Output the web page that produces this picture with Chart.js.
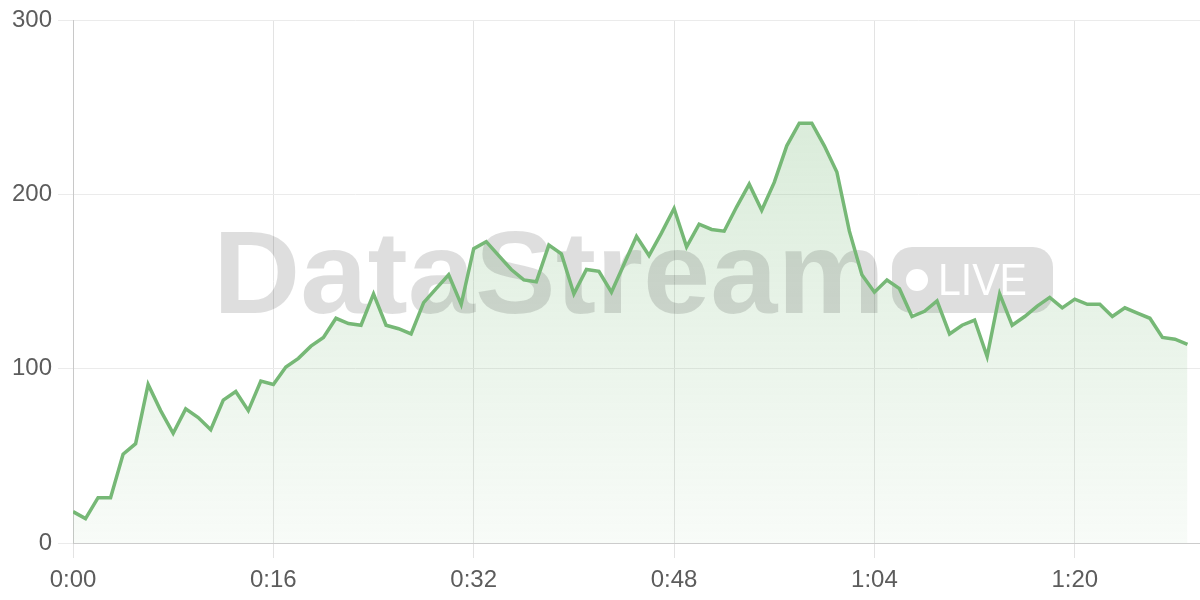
<!DOCTYPE html>
<html>
<head>
<meta charset="utf-8">
<title>DataStream live</title>
<script src="https://cdn.jsdelivr.net/npm/chart.js@4/dist/chart.umd.min.js"></script>
<style>
  html, body { margin: 0; padding: 0; background: #fff; }
  #wrap { width: 1200px; height: 600px; }
</style>
</head>
<body>
<div id="wrap"><canvas id="chart"></canvas></div>
<script>
// one reading per second, starting at 0:00
const values = [
  18, 14, 26, 26, 51, 57, 91, 76, 63, 77,
  72, 65, 82, 87, 76, 93, 91, 101, 106, 113,
  118, 129, 126, 125, 143, 125, 123, 120, 138, 146,
  154, 137, 169, 173, 165, 157, 151, 150, 171, 166,
  143, 157, 156, 144, 160, 176, 165, 178, 192, 170,
  183, 180, 179, 193, 206, 191, 207, 228, 241, 241,
  228, 213, 179, 154, 144, 151, 146, 130, 133, 139,
  120, 125, 128, 107, 143, 125, 130, 136, 141, 135,
  140, 137, 137, 130, 135, 132, 129, 118, 117, 114
];
const xTickSeconds = [0, 16, 32, 48, 64, 80];
const yTickValues = [0, 100, 200, 300];
const xMax = 90;
const yMax = 300;

const lineColor = 'rgb(118, 184, 118)';
const tickFont = { family: '"Liberation Sans", Arial, sans-serif', size: 24 };

function fmtTime(s) {
  const m = Math.floor(s / 60);
  const r = s % 60;
  return m + ':' + String(r).padStart(2, '0');
}

// big "DataStream LIVE" mark behind the line
const watermark = {
  id: 'watermark',
  beforeDatasetsDraw(chart) {
    const ctx = chart.ctx;
    ctx.save();
    ctx.fillStyle = 'rgba(0, 0, 0, 0.13)';
    ctx.font = 'bold 116px "Liberation Sans", Arial, sans-serif';
    const w = ctx.measureText('DataStream').width;
    ctx.save();
    ctx.translate(213, 313);
    ctx.scale(672 / w, 1);
    ctx.fillText('DataStream', 0, 0);
    ctx.restore();
    ctx.beginPath();
    ctx.roundRect(892, 247, 161, 66, 20);
    ctx.fill();
    ctx.fillStyle = '#fff';
    ctx.beginPath();
    ctx.arc(917, 280, 11, 0, Math.PI * 2);
    ctx.fill();
    ctx.font = '44px "Liberation Sans", Arial, sans-serif';
    const lw = ctx.measureText('LIVE').width;
    ctx.translate(938, 295);
    ctx.scale(89 / lw, 1);
    ctx.fillText('LIVE', 0, 0);
    ctx.restore();
  }
};

const ctx = document.getElementById('chart').getContext('2d');
new Chart(ctx, {
  type: 'line',
  data: {
    datasets: [{
      data: values.map((v, i) => ({ x: i, y: v })),
      borderColor: lineColor,
      borderWidth: 3.5,
      pointRadius: 0,
      tension: 0,
      fill: 'origin',
      backgroundColor: (c) => {
        const area = c.chart.chartArea;
        if (!area) return 'rgba(118, 184, 118, 0.15)';
        const g = c.chart.ctx.createLinearGradient(0, area.top, 0, area.bottom);
        g.addColorStop(0, 'rgba(118, 184, 118, 0.32)');
        g.addColorStop(1, 'rgba(118, 184, 118, 0.05)');
        return g;
      }
    }]
  },
  options: {
    responsive: true,
    maintainAspectRatio: false,
    animation: false,
    layout: { padding: { top: 19, right: 0, bottom: 0, left: 0 } },
    plugins: {
      legend: { display: false },
      tooltip: { enabled: false },
      filler: { drawTime: 'beforeDatasetsDraw' }
    },
    scales: {
      x: {
        type: 'linear',
        min: 0,
        max: xMax,
        afterBuildTicks: (s) => { s.ticks = xTickSeconds.map(v => ({ value: v })); },
        afterFit: (s) => { s.height = 57; },
        ticks: {
          callback: (v) => fmtTime(v),
          font: tickFont,
          color: '#5c5c5c',
          padding: 8,
          maxRotation: 0
        },
        grid: { color: '#e3e3e3', tickLength: 15 },
        border: { color: '#cccccc' }
      },
      y: {
        min: 0,
        max: yMax,
        afterBuildTicks: (s) => { s.ticks = yTickValues.map(v => ({ value: v })); },
        afterFit: (s) => { s.width = 73; },
        ticks: {
          font: tickFont,
          color: '#5c5c5c',
          padding: 6
        },
        grid: { color: '#ebebeb', tickLength: 15 },
        border: { color: '#c8c8c8' }
      }
    }
  },
  plugins: [watermark]
});
</script>
</body>
</html>
